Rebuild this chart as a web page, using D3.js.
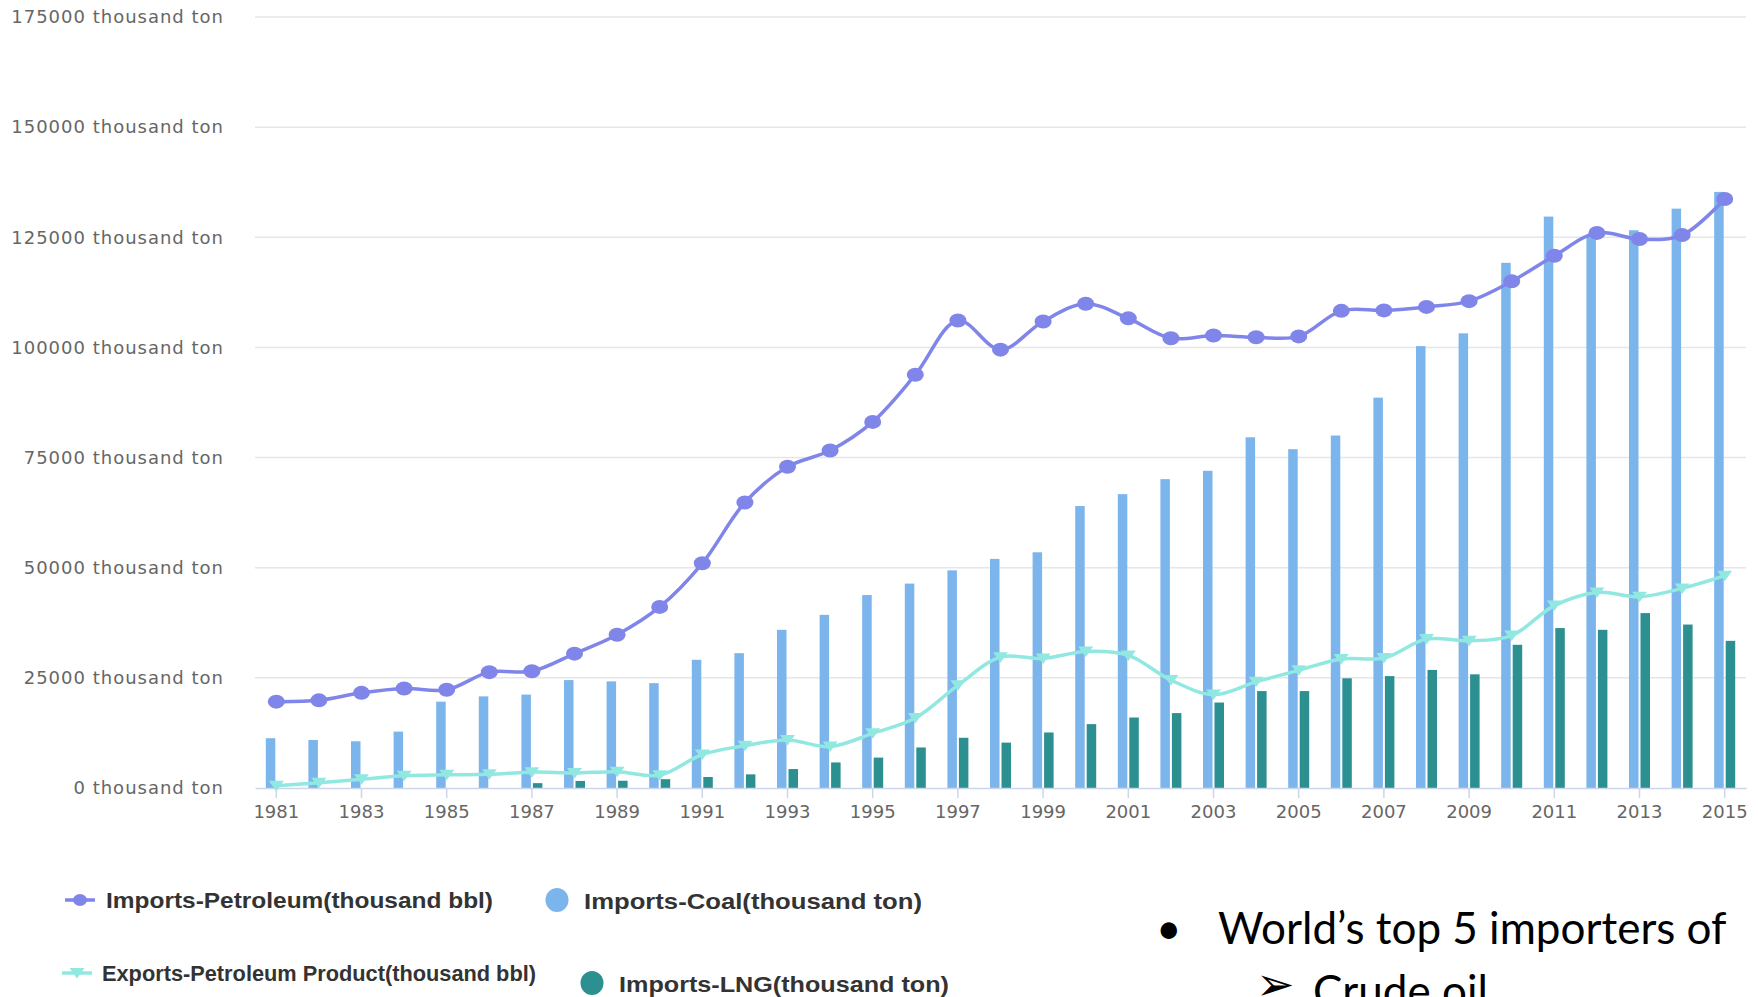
<!DOCTYPE html>
<html>
<head>
<meta charset="utf-8">
<script src="https://cdn.jsdelivr.net/npm/d3@7"></script>
<style>
  body { margin: 0; background: #fff; }
  svg { display: block; }
  .y-axis text, .x-axis text { fill: #666; font-family: "DejaVu Sans", sans-serif; font-size: 18px; }
  .legend text { fill: #333; font-family: "Liberation Sans", sans-serif; font-weight: bold; font-size: 22px; }
  .note text { fill: #000; font-family: Lato, sans-serif; font-size: 44px; }
</style>
</head>
<body>
<svg id="chart"></svg>
<script>
// data
const years = d3.range(1981, 2016)
const petroleumImports = [19600, 19900, 21600, 22600, 22300, 26300, 26500, 30500, 34800, 41100,
    51000, 64800, 72900, 76600, 83100, 93800, 106100, 99500, 105900, 109900,
    106600, 102100, 102700, 102300, 102500, 108300, 108400, 109200, 110500, 115000,
    120800, 126000, 124600, 125500, 133700]
const coalImports = [11300, 10900, 10600, 12800, 19600, 20800, 21200, 24500, 24200, 23800,
    29100, 30600, 35900, 39300, 43800, 46400, 49400, 52000, 53500, 64000,
    66700, 70100, 72000, 79600, 76900, 80000, 88600, 100300, 103200, 119200,
    129700, 125300, 126600, 131500, 135300]
const productExports = [500, 1200, 2000, 2800, 3000, 3100, 3600, 3400, 3700, 2900,
    7600, 9600, 10900, 9400, 12400, 15900, 23300, 29700, 29400, 31000,
    30100, 24500, 21200, 24100, 26700, 29300, 29500, 33800, 33400, 34600,
    41400, 44400, 43400, 45300, 48200]
const lngImports = [0, 0, 0, 0, 0, 0, 1100, 1600, 1650, 2000,
    2500, 3100, 4300, 5800, 6900, 9200, 11400, 10300, 12600, 14500,
    16000, 17000, 19400, 22000, 22000, 24900, 25400, 26800, 25800, 32500,
    36300, 35900, 39700, 37100, 33400]
const yTicks = [0, 25000, 50000, 75000, 100000, 125000, 150000, 175000]
const xTickYears = years.filter(y => (y - 1981) % 2 === 0)
const legendLabels = ["Imports-Petroleum(thousand bbl)", "Imports-Coal(thousand ton)",
    "Exports-Petroleum Product(thousand bbl)", "Imports-LNG(thousand ton)"]
const noteLines = ["World\u2019s top 5 importers of", "Crude oil"]

const colors = { petroleum: "#8085e9", coal: "#7cb5ec", exports: "#91e8e1", lng: "#2b908f" }

const W = 1758, H = 997
const svg = d3.select("#chart").attr("width", W).attr("height", H)

const x = d3.scaleBand().domain(years).range([255, 1746]).paddingInner(0).paddingOuter(0)
const y = d3.scaleLinear().domain([0, 175000]).range([788, 17])
const cx = yr => x(yr) + x.bandwidth() / 2

// grid
svg.append("g").selectAll("line").data(yTicks.filter(d => d > 0)).join("line")
    .attr("x1", 255).attr("x2", 1746)
    .attr("y1", d => y(d)).attr("y2", d => y(d))
    .attr("stroke", "#e6e6e6").attr("stroke-width", 1.5)

// y axis labels
const yAxis = svg.append("g").attr("class", "y-axis").attr("transform", "translate(255,0)")
    .call(d3.axisLeft(y).tickValues(yTicks).tickSize(0).tickPadding(31)
        .tickFormat(d => d + " thousand ton"))
yAxis.select(".domain").remove()
yAxis.selectAll("text").attr("letter-spacing", "1px")

// bars
const barW = 9.5
svg.append("g").selectAll("rect").data(years).join("rect")
    .attr("x", d => cx(d) - 10.5).attr("width", barW)
    .attr("y", (d, i) => y(coalImports[i]))
    .attr("height", (d, i) => y(0) - y(coalImports[i]))
    .attr("fill", colors.coal)
svg.append("g").selectAll("rect").data(years).join("rect")
    .attr("x", d => cx(d) + 1).attr("width", barW)
    .attr("y", (d, i) => y(lngImports[i]))
    .attr("height", (d, i) => y(0) - y(lngImports[i]))
    .attr("fill", colors.lng)

// x axis
const xAxis = svg.append("g").attr("class", "x-axis").attr("transform", "translate(0,788)")
    .call(d3.axisBottom(x).tickValues(xTickYears).tickSize(10).tickPadding(7).tickSizeOuter(0))
xAxis.select(".domain").attr("stroke", "#ccd6eb").attr("stroke-width", 1.5)
xAxis.selectAll(".tick line").attr("stroke", "#ccd6eb").attr("stroke-width", 1.5)

// lines
const line = d3.line().x(d => cx(d[0])).y(d => y(d[1])).curve(d3.curveCatmullRom.alpha(0.5))
const triPath = "M-7.5,-5L7.5,-5L0,5.5Z"

const expPts = years.map((yr, i) => [yr, productExports[i]])
svg.append("path").datum(expPts).attr("d", line)
    .attr("fill", "none").attr("stroke", colors.exports).attr("stroke-width", 3.5)
svg.append("g").selectAll("path").data(expPts).join("path")
    .attr("d", triPath)
    .attr("transform", d => `translate(${cx(d[0])},${y(d[1])})`)
    .attr("fill", colors.exports)

const petPts = years.map((yr, i) => [yr, petroleumImports[i]])
svg.append("path").datum(petPts).attr("d", line)
    .attr("fill", "none").attr("stroke", colors.petroleum).attr("stroke-width", 3.5)
svg.append("g").selectAll("ellipse").data(petPts).join("ellipse")
    .attr("cx", d => cx(d[0])).attr("cy", d => y(d[1])).attr("rx", 8.5).attr("ry", 7)
    .attr("fill", colors.petroleum)

// legend
const legend = svg.append("g").attr("class", "legend")
const leg = [
    { label: legendLabels[0], kind: "line", color: colors.petroleum, sx: 80, sy: 900, tx: 106, ty: 908, w: 387 },
    { label: legendLabels[1], kind: "dot", color: colors.coal, sx: 557, sy: 900, tx: 584, ty: 909, w: 338 },
    { label: legendLabels[2], kind: "tri", color: colors.exports, sx: 77, sy: 973, tx: 102, ty: 981, w: 434 },
    { label: legendLabels[3], kind: "dot", color: colors.lng, sx: 592, sy: 983, tx: 619, ty: 992, w: 330 }
]
leg.forEach(d => {
    if (d.kind === "dot") {
        legend.append("ellipse").attr("cx", d.sx).attr("cy", d.sy).attr("rx", 11.5).attr("ry", 12).attr("fill", d.color)
    } else {
        legend.append("line").attr("x1", d.sx - 15).attr("x2", d.sx + 15)
            .attr("y1", d.sy).attr("y2", d.sy).attr("stroke", d.color).attr("stroke-width", 3.5)
        if (d.kind === "line") {
            legend.append("ellipse").attr("cx", d.sx).attr("cy", d.sy).attr("rx", 7).attr("ry", 6).attr("fill", d.color)
        } else {
            legend.append("path").attr("d", triPath)
                .attr("transform", `translate(${d.sx},${d.sy})`).attr("fill", d.color)
        }
    }
    legend.append("text").attr("x", d.tx).attr("y", d.ty).text(d.label)
        .attr("textLength", d.w).attr("lengthAdjust", "spacingAndGlyphs")
})

// side note
const note = svg.append("g").attr("class", "note")
note.append("text").attr("x", 1156).attr("y", 944).text("\u2022")
note.append("text").attr("x", 1218).attr("y", 944).text(noteLines[0])
note.append("text").attr("x", 1256).attr("y", 1000).style("font-family", "DejaVu Sans").style("font-size", "46px").text("\u27A2")
note.append("text").attr("x", 1313).attr("y", 1007).text(noteLines[1])
</script>
</body>
</html>
